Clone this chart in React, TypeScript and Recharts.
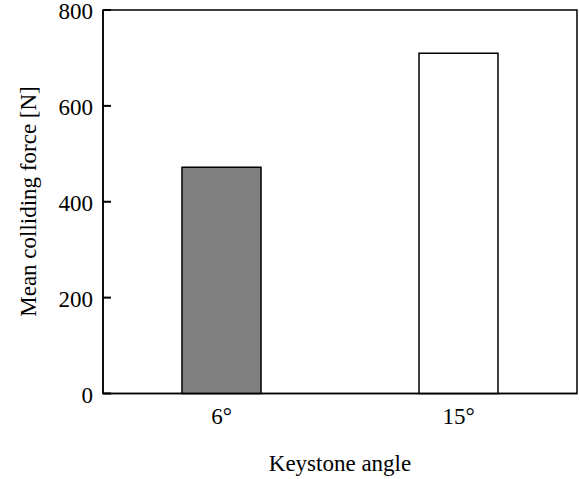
import { Bar, BarChart, Cell, ReferenceArea, XAxis, YAxis } from 'recharts';

const angles = ['6°', '15°'];
const meanForce = [472, 710];
const barFills = ['#808080', '#ffffff'];
const yTicks = [0, 200, 400, 600, 800];

const data = angles.map((angle, i) => ({ angle, force: meanForce[i] }));

const font = { fontFamily: '"Liberation Serif", "Times New Roman", serif', fontSize: 23, fill: '#000' };

const W = 579;
const H = 479;
const AXIS_W = 103;
const TICK_LEN = 8;
const LABEL_GAP = 10;

// Left axis tick: label outside, short tick line pointing into the plot.
const renderYTick = (props: any) => {
  const { y, payload } = props;
  return (
    <g key={`yt-${payload.value}`}>
      <line x1={AXIS_W} x2={AXIS_W + TICK_LEN} y1={y} y2={y} stroke="#000" strokeWidth={2} />
      <text x={AXIS_W - LABEL_GAP} y={y} dy="0.4em" textAnchor="end" style={font}>
        {payload.value}
      </text>
    </g>
  );
};

const renderXTick = (props: any) => {
  const { x, y, payload } = props;
  return (
    <text key={`xt-${payload.value}`} x={x} y={y} dy="0.71em" textAnchor="middle" style={font}>
      {payload.value}
    </text>
  );
};

export default function App() {
  return (
    <div style={{ position: 'absolute', left: 0, top: 0, width: W, height: H }}>
      <BarChart width={W} height={H} data={data} margin={{ top: 10, right: 2, bottom: 0, left: 0 }} barSize={79}>
        <XAxis
          dataKey="angle"
          height={85.5}
          tickLine={false}
          tickSize={0}
          tickMargin={14}
          tick={renderXTick}
          stroke="#000"
          strokeWidth={1.5}
        />
        <YAxis width={AXIS_W} domain={[0, 800]} ticks={yTicks} tickLine={false} tick={renderYTick} stroke="#000" strokeWidth={1.5} />
        <ReferenceArea y1={0} y2={800} fill="none" stroke="#000" strokeWidth={1.5} ifOverflow="visible" />
        <Bar dataKey="force" stroke="#000" strokeWidth={1.5} isAnimationActive={false}>
          {data.map((_, i) => (
            <Cell key={i} fill={barFills[i]} />
          ))}
        </Bar>
      </BarChart>
      {/* axis titles */}
      <svg width={W} height={H} style={{ position: 'absolute', left: 0, top: 0, pointerEvents: 'none' }}>
        <text x={340} y={471} textAnchor="middle" style={font}>
          Keystone angle
        </text>
        <text x={36} y={201.5} textAnchor="middle" transform="rotate(-90 36 201.5)" style={font}>
          Mean colliding force [N]
        </text>
      </svg>
    </div>
  );
}
